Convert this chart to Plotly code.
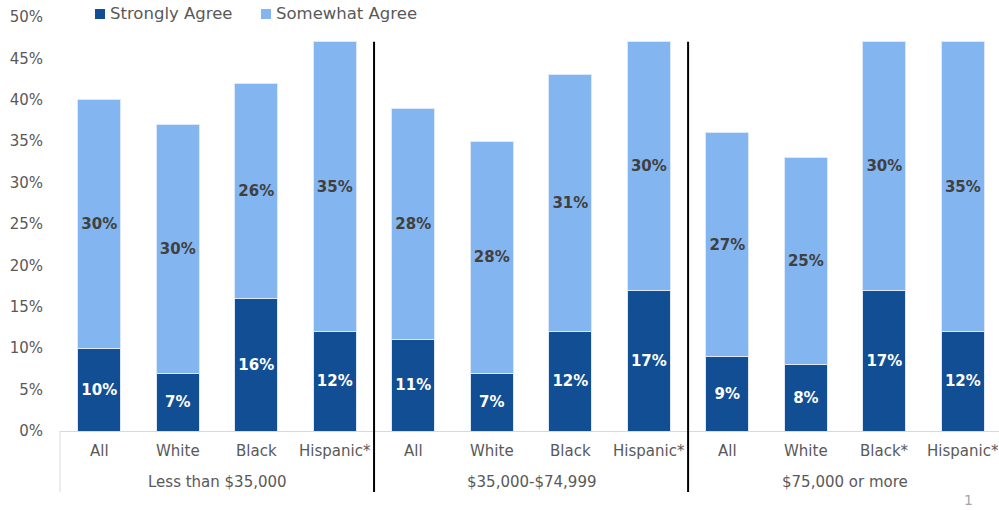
import plotly.graph_objects as go

categories = ["All", "White", "Black", "Hispanic*",
              "All", "White", "Black", "Hispanic*",
              "All", "White", "Black*", "Hispanic*"]
groups = ["Less than $35,000", "$35,000-$74,999", "$75,000 or more"]
strongly_agree = [10, 7, 16, 12, 11, 7, 12, 17, 9, 8, 17, 12]
somewhat_agree = [30, 30, 26, 35, 28, 28, 31, 30, 27, 25, 30, 35]
y_ticks = [0, 5, 10, 15, 20, 25, 30, 35, 40, 45, 50]

DARK = "#114E94"
LIGHT = "#83B5F0"
GRAY = "#595959"
FONT = "DejaVu Sans"

# plot-area geometry in pixels (used to place legend / labels in paper units)
PLOT_L, PLOT_W = 60, 939
PLOT_B, PLOT_H = 431, 414


def px_x(px):
    return (px - PLOT_L) / PLOT_W


def px_y(py):
    return (PLOT_B - py) / PLOT_H


x = list(range(len(categories)))

fig = go.Figure()
fig.add_trace(go.Bar(
    x=x, y=strongly_agree, name="Strongly Agree",
    marker=dict(color=DARK, line=dict(color="#dce8f7", width=1)),
    width=0.55,
    text=[f"{v}%" for v in strongly_agree],
    textposition="inside", insidetextanchor="middle",
    textfont=dict(family=FONT, size=15, color="white", weight="bold"),
    textangle=0,
))
fig.add_trace(go.Bar(
    x=x, y=somewhat_agree, name="Somewhat Agree",
    marker=dict(color=LIGHT, line=dict(color="#dce8f7", width=1)),
    width=0.55,
    text=[f"{v}%" for v in somewhat_agree],
    textposition="inside", insidetextanchor="middle",
    textfont=dict(family=FONT, size=15, color="#404040", weight="bold"),
    textangle=0,
))

band_bottom = px_y(492)

shapes = []
# separators between income groups
for sep in (3.5, 7.5):
    shapes.append(dict(type="line", xref="x", yref="paper",
                       x0=sep, x1=sep, y0=band_bottom, y1=47 / 50,
                       line=dict(color="black", width=2)))
# left edge of the category band
shapes.append(dict(type="line", xref="paper", yref="paper",
                   x0=0, x1=0, y0=band_bottom, y1=0,
                   line=dict(color="#d9d9d9", width=1)))

annotations = []
# category labels
for xi, c in zip(x, categories):
    annotations.append(dict(x=xi, xref="x", y=px_y(451), yref="paper",
                            text=c, showarrow=False,
                            font=dict(family=FONT, size=15, color=GRAY),
                            xanchor="center", yanchor="middle"))
# income group labels
for i, g in enumerate(groups):
    annotations.append(dict(x=i * 4 + 1.5, xref="x", y=px_y(482), yref="paper",
                            text=g, showarrow=False,
                            font=dict(family=FONT, size=15, color=GRAY),
                            xanchor="center", yanchor="middle"))
# page number
annotations.append(dict(x=px_x(968), xref="paper", y=px_y(500), yref="paper",
                        text="1", showarrow=False,
                        font=dict(family=FONT, size=14, color="#a6a6a6"),
                        xanchor="center", yanchor="middle"))

# legend: swatches with labels
legend_items = [("Strongly Agree", DARK, 95), ("Somewhat Agree", LIGHT, 261)]
for name, color, left in legend_items:
    shapes.append(dict(type="rect", xref="paper", yref="paper",
                       x0=px_x(left), x1=px_x(left + 10),
                       y0=px_y(19), y1=px_y(9),
                       fillcolor=color, line=dict(width=0)))
    annotations.append(dict(x=px_x(left + 13), xref="paper", y=px_y(14),
                            yref="paper", text=name, showarrow=False,
                            font=dict(family=FONT, size=16.5, color=GRAY),
                            xanchor="left", yanchor="middle"))

fig.update_layout(
    barmode="stack",
    width=999, height=510,
    margin=dict(l=PLOT_L, r=0, t=17, b=79),
    paper_bgcolor="white", plot_bgcolor="white",
    font=dict(family=FONT, color=GRAY),
    showlegend=False,
    xaxis=dict(tickvals=x, showticklabels=False, range=[-0.5, 11.46],
               showline=True, linecolor="#d9d9d9", linewidth=1,
               showgrid=False, zeroline=False, ticks=""),
    yaxis=dict(range=[0, 50], tickvals=y_ticks,
               ticktext=[f"{v}%" for v in y_ticks],
               showgrid=False, zeroline=False, showline=False, ticks="",
               tickfont=dict(family=FONT, size=15, color=GRAY),
               ticklabelstandoff=16),
    shapes=shapes,
    annotations=annotations,
)

fig.write_html("out.html")
